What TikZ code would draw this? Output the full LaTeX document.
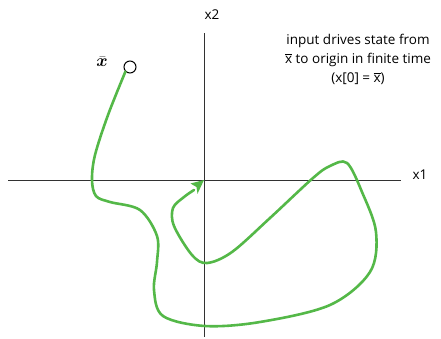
\documentclass[tikz,border=0pt]{standalone}
\usepackage{fontspec}
\setmainfont{Open Sans}
\usepackage{bm}
\usetikzlibrary{arrows.meta}
\definecolor{pathgreen}{RGB}{84,184,72}
\definecolor{axisgray}{RGB}{50,50,50}
\tikzset{
  axis/.style={draw=axisgray, line width=1pt},
  traj/.style={draw=pathgreen, line width=2.6pt, line cap=round},
  lbl/.style={font=\fontsize{13.5}{19}\selectfont, inner sep=0pt}
}
\begin{document}
\begin{tikzpicture}[x=1pt, y=-1pt]
  \useasboundingbox (0,0) rectangle (441,338);
  % axes
  \coordinate (origin) at (204,180);
  \coordinate (xl) at (8,180);
  \coordinate (xr) at (401,180);
  \coordinate (yt) at (204,33);
  \coordinate (yb) at (204,337);
  \draw[axis] (xl) -- (xr);
  \draw[axis] (yt) -- (yb);
  \node[lbl] (xonelbl) at (420,175) {x1};
  \node[lbl] (xtwolbl) at (212,15) {x2};
  % start state
  \node[circle, draw, line width=1pt, fill=white, minimum size=12pt, inner sep=0pt] (start) at (130,67) {};
  \node[inner sep=0pt] (xbar) at (102,62) {\fontsize{19}{19}\selectfont $\bm{\bar{x}}$};
  % note
  \node[lbl, align=center] (note) at (358,59)
    {input drives state from\\$\overline{\mbox{x}}$ to origin in finite time\\(x[0] = $\overline{\mbox{x}}$)};
  % trajectory
  \draw[traj] plot[smooth, tension=0.55] coordinates {
    (start.south west) (108,115) (95,155) (92,180) (96,196) (110,202) (140,210)
    (157,236) (157,262) (154,290) (163,316) (205,326) (260,322) (330,305)
    (370,272) (376,232) (362,192) (347,163) (330,166) (313,178) (270,218)
    (232,252) (207,263) (192,255) (174,226) (173,208) (184,197) (194,190)
  };
  % arrow head at the origin
  \fill[pathgreen] (origin) -- (190.5,183.5) -- (196.5,187) -- (197.5,193.8) -- cycle;
\end{tikzpicture}
\end{document}
